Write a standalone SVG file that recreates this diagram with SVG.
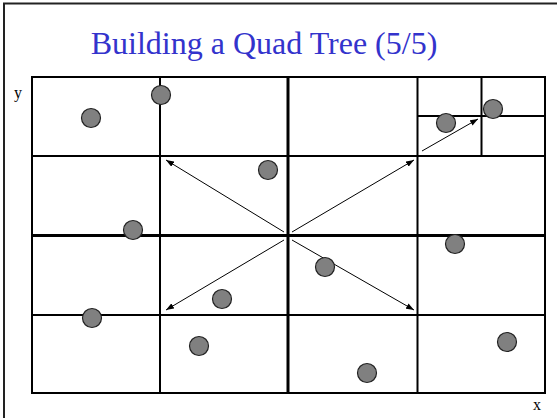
<svg xmlns="http://www.w3.org/2000/svg" width="557" height="418" viewBox="0 0 557 418">
<defs>
<style>
.g{stroke:#000;stroke-width:2;fill:none}
.gm{stroke:#000;stroke-width:3;fill:none}
.pt{fill:#808080;stroke:#222;stroke-width:1.2}
.ar{stroke:#000;stroke-width:1;fill:none;marker-end:url(#ah)}
.lbl{font-family:"Liberation Serif","Times New Roman",serif;font-size:16px;fill:#000}
.title{font-family:"Liberation Serif","Times New Roman",serif;font-size:32px;fill:#3333cc}
</style>
<marker id="ah" markerWidth="8" markerHeight="6" refX="8" refY="3" orient="auto" markerUnits="userSpaceOnUse">
<path d="M0,0 L8,3 L0,6 z" fill="#000"/>
</marker>
</defs>
<rect x="0" y="0" width="557" height="418" fill="#fff"/>
<path d="M4,418 V3.5 H557" stroke="#222" stroke-width="2" fill="none"/>
<text class="title" x="264" y="54" text-anchor="middle">Building a Quad Tree (5/5)</text>
<g id="grid">
<rect class="g" x="32" y="77" width="513" height="316"/>
<line class="g" x1="160" y1="77" x2="160" y2="393"/>
<line class="g" x1="417.5" y1="77" x2="417.5" y2="393"/>
<line class="g" x1="32" y1="156" x2="545" y2="156"/>
<line class="g" x1="32" y1="315" x2="545" y2="315"/>
<line class="gm" x1="288" y1="77" x2="288" y2="393"/>
<line class="gm" x1="32" y1="235.5" x2="545" y2="235.5"/>
<line class="g" x1="481.5" y1="77" x2="481.5" y2="156"/>
<line class="g" x1="417.5" y1="116" x2="545" y2="116"/>
</g>
<g id="connectors">
<line class="ar" x1="284" y1="232" x2="166" y2="160"/>
<line class="ar" x1="292" y1="232" x2="414" y2="160"/>
<line class="ar" x1="284" y1="240" x2="166" y2="310"/>
<line class="ar" x1="292" y1="240" x2="414" y2="310"/>
<line class="ar" x1="422" y1="151" x2="478" y2="119"/>
</g>
<g id="points">
<circle class="pt" cx="91" cy="118" r="9.5"/>
<circle class="pt" cx="161" cy="95" r="9.5"/>
<circle class="pt" cx="268" cy="170" r="9.5"/>
<circle class="pt" cx="133" cy="230" r="9.5"/>
<circle class="pt" cx="446" cy="123" r="9.5"/>
<circle class="pt" cx="493" cy="109" r="9.5"/>
<circle class="pt" cx="455" cy="244" r="9.5"/>
<circle class="pt" cx="325" cy="267" r="9.5"/>
<circle class="pt" cx="222" cy="299" r="9.5"/>
<circle class="pt" cx="92" cy="318" r="9.5"/>
<circle class="pt" cx="199" cy="346" r="9.5"/>
<circle class="pt" cx="507" cy="342" r="9.5"/>
<circle class="pt" cx="367" cy="373" r="9.5"/>
</g>
<text class="lbl" x="14" y="98">y</text>
<text class="lbl" x="533" y="410">x</text>
</svg>
